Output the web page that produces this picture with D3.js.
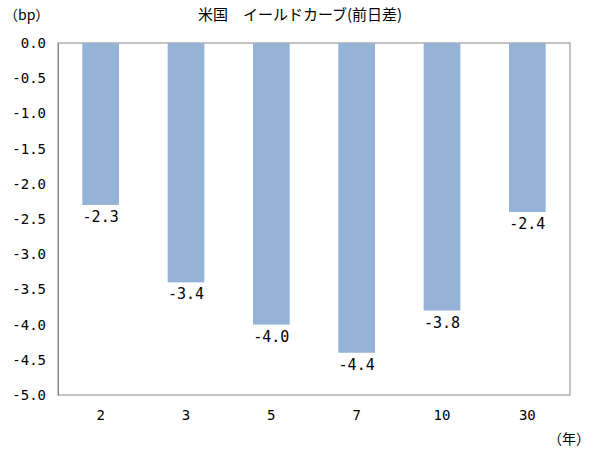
<!DOCTYPE html>
<html><head><meta charset="utf-8">
<script src="https://cdn.jsdelivr.net/npm/d3@7"></script>
<style>body{margin:0;background:#fff}text{font-family:"Noto Sans CJK JP",sans-serif;fill:#000}.num{font-family:"DejaVu Sans Mono",monospace}</style>
</head><body><div id="chart"></div>
<script>
// chart data
const categories = ['2', '3', '5', '7', '10', '30'];
const values = [-2.3, -3.4, -4.0, -4.4, -3.8, -2.4];
const yTicks = [0, -0.5, -1, -1.5, -2, -2.5, -3, -3.5, -4, -4.5, -5];

const WIDTH = 595, HEIGHT = 452;
const MARGINS = {left: 58, right: 25, top: 43, bottom: 57};

const svg = d3.select('#chart').append('svg')
    .attr('width', WIDTH).attr('height', HEIGHT);

const X_SCALE = d3.scaleBand().domain(categories)
    .range([MARGINS.left, WIDTH - MARGINS.right]).paddingInner(0.57).paddingOuter(0.285);
const Y_SCALE = d3.scaleLinear().domain([-5, 0])
    .range([HEIGHT - MARGINS.bottom, MARGINS.top]);

// plot border
svg.append('rect')
    .attr('x', MARGINS.left).attr('y', MARGINS.top)
    .attr('width', WIDTH - MARGINS.left - MARGINS.right)
    .attr('height', HEIGHT - MARGINS.top - MARGINS.bottom)
    .attr('fill', 'none').attr('stroke', '#888');

// y axis
const yAxis = svg.append('g')
    .attr('transform', 'translate(' + MARGINS.left + ',0)')
    .call(d3.axisLeft(Y_SCALE).tickValues(yTicks).tickSize(0));
yAxis.select('.domain').attr('stroke', '#888');
yAxis.selectAll('text').attr('class', 'num').attr('font-size', 14).attr('x', -12)
    .text(d => d.toFixed(1));

// bars
svg.selectAll('.bar').data(values).enter().append('rect')
    .attr('x', (d, i) => X_SCALE(categories[i]))
    .attr('width', X_SCALE.bandwidth())
    .attr('y', Y_SCALE(0))
    .attr('height', d => Y_SCALE(d) - Y_SCALE(0))
    .attr('fill', '#95B3D7');

// value labels
svg.selectAll('.lbl').data(values).enter().append('text')
    .attr('class', 'num')
    .attr('x', (d, i) => X_SCALE(categories[i]) + X_SCALE.bandwidth() / 2)
    .attr('y', d => Y_SCALE(d) + 17)
    .attr('text-anchor', 'middle').attr('font-size', 15)
    .text(d => d.toFixed(1));

// x labels
svg.selectAll('.xl').data(categories).enter().append('text')
    .attr('class', 'num')
    .attr('x', d => X_SCALE(d) + X_SCALE.bandwidth() / 2)
    .attr('y', HEIGHT - MARGINS.bottom + 25)
    .attr('text-anchor', 'middle').attr('font-size', 14)
    .text(d => d);

svg.append('text').attr('x', 300).attr('y', 20).attr('text-anchor', 'middle')
    .attr('font-size', 15).text('米国　イールドカーブ(前日差)');
svg.append('text').attr('x', 4).attr('y', 20).attr('font-size', 14).text('（bp）');
svg.append('text').attr('x', 548).attr('y', 444).attr('font-size', 14).text('（年）');
</script></body></html>
